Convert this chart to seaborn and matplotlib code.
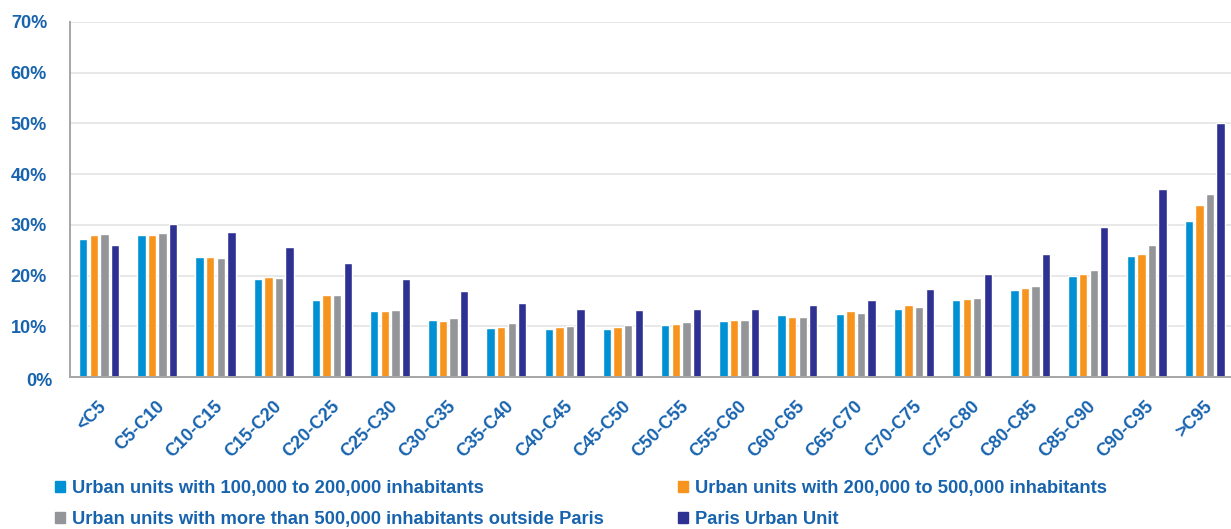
import matplotlib
matplotlib.use("Agg")
import matplotlib.pyplot as plt
import matplotlib.transforms as mtransforms
from matplotlib.patches import Patch
from matplotlib.ticker import FuncFormatter, MultipleLocator
import seaborn as sns
import pandas as pd

# Income brackets (centiles)
categories = ["<C5", "C5-C10", "C10-C15", "C15-C20", "C20-C25", "C25-C30",
              "C30-C35", "C35-C40", "C40-C45", "C45-C50", "C50-C55", "C55-C60",
              "C60-C65", "C65-C70", "C70-C75", "C75-C80", "C80-C85", "C85-C90",
              "C90-C95", ">C95"]

series_names = [
    "Urban units with 100,000 to 200,000 inhabitants",
    "Urban units with 200,000 to 500,000 inhabitants",
    "Urban units with more than 500,000 inhabitants outside Paris",
    "Paris Urban Unit",
]

# Share (%) per bracket
uu_100k_200k = [27.2, 28.0, 23.6, 19.3, 15.2, 13.0, 11.2, 9.7, 9.5, 9.5,
                10.3, 11.1, 12.2, 12.5, 13.5, 15.2, 17.2, 19.9, 23.9, 30.8]
uu_200k_500k = [28.0, 28.0, 23.6, 19.7, 16.1, 13.1, 11.0, 9.9, 9.9, 9.9,
                10.5, 11.3, 11.8, 13.0, 14.1, 15.4, 17.6, 20.3, 24.3, 34.0]
uu_500k_plus = [28.2, 28.4, 23.5, 19.5, 16.1, 13.2, 11.6, 10.7, 10.1, 10.2,
                10.8, 11.3, 11.8, 12.6, 13.8, 15.5, 18.0, 21.1, 26.0, 36.1]
paris_uu = [26.1, 30.1, 28.6, 25.6, 22.5, 19.3, 16.9, 14.6, 13.4, 13.2,
            13.4, 13.5, 14.1, 15.1, 17.4, 20.3, 24.3, 29.5, 37.0, 50.1]

colors = ["#0091D5", "#F7941E", "#939598", "#2E3192"]
text_color = "#1763AE"

df = pd.DataFrame({
    "bracket": categories * 4,
    "series": sum([[s] * len(categories) for s in series_names], []),
    "value": uu_100k_200k + uu_200k_500k + uu_500k_plus + paris_uu,
})

sns.set_theme(style="white")
plt.rcParams["font.family"] = ["Liberation Sans", "DejaVu Sans"]

W, H = 1231, 529
fig = plt.figure(figsize=(W / 100, H / 100), dpi=100)
ax = fig.add_axes([70 / W, (H - 377) / H, (1231 - 70) / W, (377 - 22) / H])

sns.barplot(data=df, x="bracket", y="value", hue="series", order=categories,
            hue_order=series_names, palette=colors, width=0.726, gap=0.21,
            saturation=1, legend=False, ax=ax)

ax.set_xlim(-0.5, 19.45)
ax.set_ylim(0, 70)
ax.yaxis.set_major_locator(MultipleLocator(10))
ax.yaxis.set_major_formatter(FuncFormatter(lambda v, p: f"{v:.0f}%"))
ax.set_xlabel("")
ax.set_ylabel("")

ax.grid(axis="y", color="#E4E4E4", linewidth=1.2)
ax.set_axisbelow(True)
for side in ["top", "right"]:
    ax.spines[side].set_visible(False)
for side in ["left", "bottom"]:
    ax.spines[side].set_color("#A6A6A6")
    ax.spines[side].set_linewidth(1.4)

ax.tick_params(axis="y", length=9.5, width=1.2, color="#A6A6A6", pad=7,
               labelsize=13, labelcolor=text_color)
ax.set_yticks(range(0, 71, 10))
ylabels = ax.get_yticklabels()
for lbl in ylabels:
    lbl.set_fontweight("bold")
# the zero label sits a little lower-right
ylabels[0].set_transform(ylabels[0].get_transform() + mtransforms.ScaledTranslation(
    5 / 100, -2 / 100, fig.dpi_scale_trans))

ax.tick_params(axis="x", length=0, pad=15, labelsize=13, labelcolor=text_color)
ax.set_xticks(range(len(categories)))
ax.set_xticklabels(categories, rotation=45, ha="right", va="top",
                   rotation_mode="anchor", fontweight="bold")
shift = mtransforms.ScaledTranslation(-1 / 100, 0, fig.dpi_scale_trans)
for lbl in ax.get_xticklabels():
    lbl.set_transform(lbl.get_transform() + shift)

legend_kw = dict(loc="center left", frameon=False,
                 handlelength=0.55, handleheight=0.55, handletextpad=0.4,
                 labelspacing=0.72, borderaxespad=0, borderpad=0,
                 labelcolor=text_color, prop={"weight": "bold", "size": 13.2})
left_handles = [Patch(color=colors[0]), Patch(color=colors[2])]
right_handles = [Patch(color=colors[1]), Patch(color=colors[3])]
leg1 = fig.legend(left_handles, [series_names[0], series_names[2]],
                  bbox_to_anchor=(55 / W, 1 - 504 / H), **legend_kw)
leg2 = fig.legend(right_handles, [series_names[1], series_names[3]],
                  bbox_to_anchor=(678 / W, 1 - 504 / H), **legend_kw)

fig.savefig("out.png", dpi=100, facecolor="white")
